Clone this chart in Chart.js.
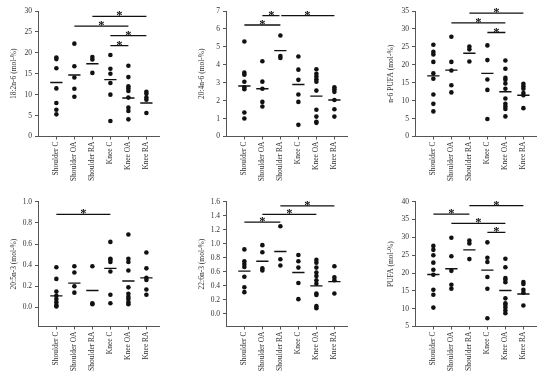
<!DOCTYPE html>
<html>
<head>
<meta charset="utf-8">
<script src="https://cdn.jsdelivr.net/npm/chart.js@4.4.1/dist/chart.umd.min.js"></script>
<style>
html, body { margin: 0; padding: 0; background: #fff; }
body { width: 550px; height: 381px; position: relative; overflow: hidden; }
canvas { position: absolute; }
</style>
</head>
<body>
<script>
const categories = ['Shoulder C', 'Shoulder OA', 'Shoulder RA', 'Knee C', 'Knee OA', 'Knee RA'];

// 18:2n-6
const la_values = [
    [18.9, 18.5, 16.3, 11.5, 8.0, 6.4, 5.3],
    [22.2, 16.8, 14.1, 11.4, 9.5],
    [19.0, 18.4, 15.2],
    [19.5, 16.2, 15.0, 12.8, 10.0, 3.7],
    [16.9, 14.2, 12.0, 11.5, 10.9, 9.3, 6.9, 6.1, 4.1],
    [10.7, 10.2, 9.3, 8.8, 5.6]
];
const la_means = [12.9, 14.7, 17.4, 13.6, 9.2, 8.0];
const la_sig = [[2, 5, 28.7], [1, 4, 26.4], [3, 5, 24.1], [3, 4, 21.7]];
const la_ticks = [0, 5, 10, 15, 20, 25, 30];

// 20:4n-6
const aa_values = [
    [5.3, 3.56, 3.45, 3.05, 2.75, 2.64, 1.34, 1.0],
    [4.2, 3.06, 2.66, 1.93, 1.67],
    [5.63, 4.49, 4.38],
    [4.46, 3.73, 3.16, 2.34, 1.93, 0.65],
    [3.75, 3.5, 3.34, 3.19, 3.06, 2.56, 1.49, 1.11, 0.82, 0.76],
    [2.75, 2.64, 2.49, 2.04, 1.52, 1.11]
];
const aa_means = [2.82, 2.66, 4.79, 2.9, 2.25, 2.04];
const aa_sig = [[0, 2, 6.22], [1, 1.95, 6.74], [2.05, 5, 6.74]];
const aa_ticks = [0, 1, 2, 3, 4, 5, 6, 7];

// n-6 PUFA
const n6_values = [
    [25.6, 23.6, 22.9, 20.8, 17.6, 16.1, 11.7, 9.1, 7.0],
    [27.8, 20.8, 18.4, 14.3, 12.3],
    [25.1, 24.3, 20.9],
    [25.4, 21.3, 15.9, 13.0, 4.9],
    [21.2, 18.9, 16.4, 15.8, 14.8, 13.3, 10.6, 9.1, 8.4, 7.7, 5.6],
    [14.7, 14.0, 13.3, 12.1, 11.5, 7.9]
];
const n6_means = [16.9, 18.5, 23.2, 17.6, 12.5, 11.5];
const n6_sig = [[2, 5, 34.4], [1, 4, 31.7], [3, 4, 29.0]];
const n6_ticks = [0, 5, 10, 15, 20, 25, 30, 35];

// 20:5n-3
const epa_values = [
    [0.38, 0.27, 0.15, 0.11, 0.08, 0.05, 0.02, 0.01],
    [0.39, 0.33, 0.20, 0.14],
    [0.39, 0.04, 0.03],
    [0.62, 0.46, 0.45, 0.43, 0.34, 0.12, 0.04],
    [0.69, 0.46, 0.43, 0.35, 0.19, 0.13, 0.10, 0.08, 0.05, 0.03],
    [0.52, 0.37, 0.28, 0.26, 0.17, 0.12]
];
const epa_means = [0.11, 0.23, 0.16, 0.37, 0.25, 0.28];
const epa_sig = [[0, 3, 0.88]];
const epa_ticks = [0, 0.2, 0.4, 0.6, 0.8, 1.0];

// 22:6n-3
const dha_values = [
    [0.92, 0.75, 0.71, 0.67, 0.53, 0.38, 0.31],
    [0.98, 0.88, 0.65, 0.62],
    [1.25, 0.78, 0.69],
    [0.84, 0.75, 0.66, 0.44, 0.21],
    [0.77, 0.73, 0.66, 0.59, 0.54, 0.48, 0.43, 0.29, 0.27, 0.11, 0.08],
    [0.68, 0.52, 0.48, 0.29]
];
const dha_means = [0.61, 0.75, 0.89, 0.59, 0.40, 0.46];
const dha_sig = [[0, 2, 1.31], [1, 4, 1.42], [2, 5, 1.54]];
const dha_ticks = [0, 0.2, 0.4, 0.6, 0.8, 1.0, 1.2, 1.4, 1.6];

// PUFA
const pufa_values = [
    [27.6, 26.5, 25.0, 22.9, 20.9, 19.5, 15.3, 13.9, 10.3],
    [29.9, 24.7, 20.6, 16.7, 15.6],
    [29.1, 28.3, 23.9],
    [28.6, 24.3, 23.1, 18.9, 15.6, 7.3],
    [24.0, 21.6, 18.6, 18.1, 17.4, 12.9, 11.5, 11.0, 10.3, 9.5, 8.7],
    [17.5, 16.9, 15.3, 14.5, 10.9]
];
const pufa_means = [19.6, 21.2, 26.5, 20.8, 15.1, 14.1];
const pufa_sig = [[0, 2, 36.5], [2, 5, 38.9], [1, 4, 33.9], [3, 4, 31.4]];
const pufa_ticks = [5, 10, 15, 20, 25, 30, 35, 40];

const panels = [
    { title: '18:2n-6 (mol-%)', values: la_values, means: la_means, sig: la_sig, ticks: la_ticks, min: 0, max: 30, dec: 0 },
    { title: '20:4n-6 (mol-%)', values: aa_values, means: aa_means, sig: aa_sig, ticks: aa_ticks, min: 0, max: 7, dec: 0 },
    { title: 'n-6 PUFA (mol-%)', values: n6_values, means: n6_means, sig: n6_sig, ticks: n6_ticks, min: 0, max: 35, dec: 0 },
    { title: '20:5n-3 (mol-%)', values: epa_values, means: epa_means, sig: epa_sig, ticks: epa_ticks, min: -0.18, max: 1.0, dec: 1 },
    { title: '22:6n-3 (mol-%)', values: dha_values, means: dha_means, sig: dha_sig, ticks: dha_ticks, min: -0.18, max: 1.6, dec: 1 },
    { title: 'PUFA (mol-%)', values: pufa_values, means: pufa_means, sig: pufa_sig, ticks: pufa_ticks, min: 5, max: 40, dec: 0 }
];

// canvas placement for the 3x2 grid
const lefts = [1, 189, 378];
const tops = [0, 190];
const padTops = [11, 11.7];

const ink = '#111';
const axisCol = '#555';
const font = { family: '"Liberation Serif", "Times New Roman", serif', size: 7.5 };

// draws the * above each significance bar
const starPlugin = {
    id: 'stars',
    afterDatasetsDraw(chart, args, opts) {
        const { ctx, scales: { x, y } } = chart;
        ctx.save();
        ctx.fillStyle = ink;
        ctx.font = 'bold 12.5px "Liberation Serif"';
        ctx.textAlign = 'center';
        ctx.textBaseline = 'alphabetic';
        (opts.sig || []).forEach(([a, b, level]) => {
            const xa = Math.round(a), xb = Math.round(b);
            ctx.fillText('*', x.getPixelForValue((xa + xb) / 2), y.getPixelForValue(level) + 3);
        });
        ctx.restore();
    }
};

const makePanel = (p, i) => {
    const canvas = document.createElement('canvas');
    canvas.width = 176;
    canvas.height = 190;
    canvas.style.left = lefts[i % 3] + 'px';
    canvas.style.top = tops[Math.floor(i / 3)] + 'px';
    document.body.appendChild(canvas);

    const dots = [];
    p.values.forEach((vals, c) => vals.forEach(v => dots.push({ x: c, y: v })));

    const meanLines = [];
    p.means.forEach((m, c) => {
        meanLines.push({ x: c - 0.34, y: m }, { x: c + 0.34, y: m }, { x: c + 0.5, y: null });
    });

    const bars = [];
    p.sig.forEach(([a, b, level]) => {
        bars.push({ x: a, y: level }, { x: b, y: level }, { x: b + 0.01, y: null });
    });

    new Chart(canvas, {
        type: 'scatter',
        data: {
            datasets: [
                { data: dots, pointRadius: 2.3, pointBackgroundColor: ink, pointBorderWidth: 0, clip: false },
                { type: 'line', data: meanLines, borderColor: ink, borderWidth: 1.4, pointRadius: 0, spanGaps: false, clip: false },
                { type: 'line', data: bars, borderColor: ink, borderWidth: 1.3, pointRadius: 0, spanGaps: false, clip: false }
            ]
        },
        options: {
            responsive: false,
            animation: false,
            devicePixelRatio: 1,
            layout: { padding: { top: padTops[Math.floor(i / 3)], right: 18, left: 0, bottom: 0 } },
            plugins: {
                legend: { display: false },
                tooltip: { enabled: false },
                stars: { sig: p.sig }
            },
            scales: {
                x: {
                    type: 'linear',
                    min: -1.02,
                    max: 5.7,
                    afterBuildTicks: (s) => { s.ticks = categories.map((c, k) => ({ value: k })); },
                    afterFit: (s) => { s.height = 53.5; },
                    grid: { display: true, drawOnChartArea: false, drawTicks: true, tickLength: 3, color: axisCol },
                    border: { display: true, color: axisCol, width: 1 },
                    ticks: {
                        autoSkip: false,
                        minRotation: 90,
                        maxRotation: 90,
                        padding: 2,
                        color: '#333',
                        font: font,
                        callback: (v) => categories[v]
                    }
                },
                y: {
                    min: p.min,
                    max: p.max,
                    afterBuildTicks: (s) => { s.ticks = p.ticks.map(v => ({ value: v })); },
                    afterFit: (s) => { s.width = 37; },
                    grid: { display: true, drawOnChartArea: false, drawTicks: true, tickLength: 3, color: axisCol },
                    border: { display: true, color: axisCol, width: 1 },
                    ticks: {
                        padding: 3,
                        color: '#333',
                        font: font,
                        callback: (v) => Number(v).toFixed(p.dec)
                    },
                    title: {
                        display: true,
                        text: p.title,
                        color: '#333',
                        font: font,
                        padding: { top: 9, bottom: 0 }
                    }
                }
            }
        },
        plugins: [starPlugin]
    });
};

panels.forEach(makePanel);
</script>
</body>
</html>
